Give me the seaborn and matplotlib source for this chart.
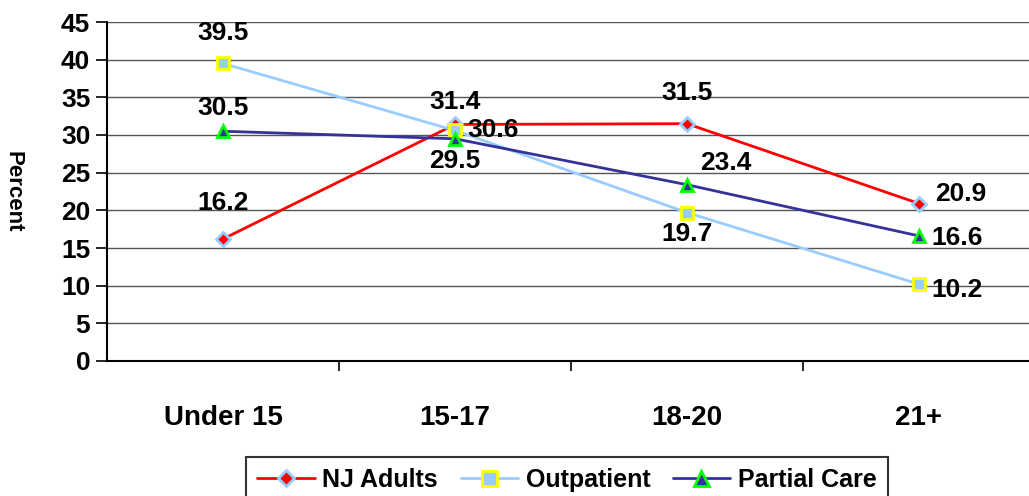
import numpy as np
import pandas as pd
import seaborn as sns
import matplotlib.pyplot as plt

# data
age_groups = ["Under 15", "15-17", "18-20", "21+"]
nj_adults = [16.2, 31.4, 31.5, 20.9]
outpatient = [39.5, 30.6, 19.7, 10.2]
partial_care = [30.5, 29.5, 23.4, 16.6]

# label offsets in pixels (dx, dy) for each value label
nj_offsets = [(0, 36), (0, 22), (0, 31), (42, 10)]
out_offsets = [(0, 30), (38, 0), (0, -21), (38, -6)]
pc_offsets = [(0, 23), (0, -22), (39, 22), (38, -2)]

sns.set_style("white")
plt.rcParams['font.family'] = ['Liberation Sans', 'DejaVu Sans']
plt.rcParams['font.weight'] = 'bold'
plt.rcParams['text.color'] = 'black'
plt.rcParams['xtick.color'] = 'black'
plt.rcParams['ytick.color'] = 'black'
plt.rcParams['axes.labelcolor'] = 'black'

fig = plt.figure(figsize=(10.29, 4.96), dpi=100)
ax = fig.add_axes([107 / 1029, 1 - 361 / 496, 928 / 1029, 339 / 496])

x = np.arange(len(age_groups))
series = [
    ("NJ Adults", nj_adults, "#FF0000", "D", "#FF0000", "#99CCFF", 7, nj_offsets),
    ("Outpatient", outpatient, "#99CCFF", "s", "#99CCFF", "#FFFF00", 9, out_offsets),
    ("Partial Care", partial_care, "#333399", "^", "#333399", "#00FF00", 9, pc_offsets),
]

for name, vals, color, marker, face, edge, ms, offs in series:
    df = pd.DataFrame({"x": x, "y": vals})
    sns.lineplot(data=df, x="x", y="y", ax=ax, color=color, linewidth=2,
                 marker=marker, markersize=ms, markerfacecolor=face,
                 markeredgecolor=edge, markeredgewidth=2, label=name)
    for xi, v, (dx, dy) in zip(x, vals, offs):
        ax.annotate(f"{v:.1f}", (xi, v), xytext=(dx * 0.72, dy * 0.72),
                    textcoords="offset points", ha="center", va="center",
                    fontsize=19, fontweight="bold", color="black")

ax.set_xlim(-0.5, 3.5)
ax.set_ylim(0, 45)
ax.set_yticks(np.arange(0, 50, 5))
ax.set_xticks(x)
ax.set_xticklabels(age_groups)
ax.set_xticks([0.5, 1.5, 2.5], minor=True)
ax.yaxis.grid(True, color="#555555", linewidth=1)
ax.tick_params(axis="x", which="major", bottom=True, length=0, pad=32, labelsize=20)
ax.tick_params(axis="x", which="minor", bottom=True, length=7, width=1.2, color="black", direction="out")
ax.tick_params(axis="y", left=True, length=8, width=1.2, color="black", direction="out", labelsize=19, pad=4)
for lbl in ax.get_xticklabels() + ax.get_yticklabels():
    lbl.set_fontweight("bold")
ax.set_xlabel("")
ax.set_ylabel("Percent", rotation=-90, fontsize=16, fontweight="bold", labelpad=42)
for side in ["top", "right"]:
    ax.spines[side].set_visible(False)
for side in ["left", "bottom"]:
    ax.spines[side].set_color("black")
    ax.spines[side].set_linewidth(1.5)

handles, labels = ax.get_legend_handles_labels()
ax.legend_.remove()
leg = fig.legend(handles, labels, loc="lower center", bbox_to_anchor=(0.551, -0.04), ncol=3,
                 frameon=True, fancybox=False, edgecolor="black", fontsize=18,
                 handlelength=2.3, handletextpad=0.3, columnspacing=0.9, borderpad=0.45,
                 markerscale=1.2)
leg.get_frame().set_linewidth(1.5)
for t in leg.get_texts():
    t.set_fontweight("bold")

fig.savefig("out.png", dpi=100)
